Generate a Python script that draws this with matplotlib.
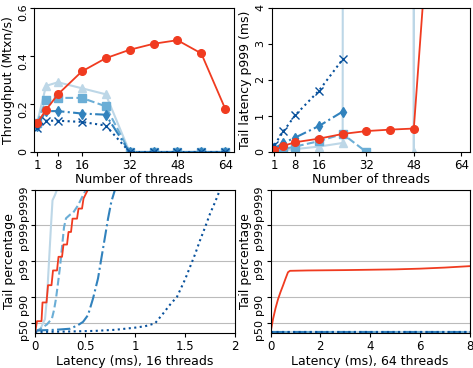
import numpy as np
import matplotlib
matplotlib.use('Agg')
import matplotlib.pyplot as plt

plt.rcParams['font.size'] = 9
plt.rcParams['xtick.labelsize'] = 8.5
plt.rcParams['ytick.labelsize'] = 8

threads = [1, 4, 8, 16, 24, 32, 40, 48, 56, 64]
nan = np.nan

# throughput (Mtxn/s)
tput_red = [0.12, 0.175, 0.24, 0.335, 0.39, 0.425, 0.45, 0.465, 0.41, 0.18]
tput_tri = [0.12, 0.275, 0.29, 0.265, 0.24, 0, 0, 0, 0, 0]
tput_sq = [0.12, 0.215, 0.225, 0.225, 0.19, 0, 0, 0, 0, 0]
tput_dia = [0.11, 0.17, 0.17, 0.16, 0.155, 0, 0, 0, 0, 0]
tput_x = [0.10, 0.13, 0.13, 0.125, 0.11, 0, 0, 0, 0, 0]

# p999 latency (ms)
lat_red = [0.05, 0.17, 0.27, 0.37, 0.5, 0.58, 0.62, 0.65, 9.7, 9.7]
lat_tri = [0.02, 0.05, 0.08, 0.15, 0.25, 1000, 1000, 0, 1000, 1000]
lat_sq = [0.03, 0.08, 0.15, 0.3, 0.5, 0, nan, nan, nan, nan]
lat_dia = [0.1, 0.25, 0.4, 0.72, 1.12, nan, nan, nan, nan, nan]
lat_x = [0.2, 0.57, 1.02, 1.7, 2.57, nan, nan, nan, nan, nan]

# tail curves, 16 threads (x = latency ms, y = -log10(1-p))
c16_red_x = [0.0, 0.02, 0.065, 0.075, 0.115, 0.13, 0.165, 0.18, 0.22, 0.235, 0.27,
             0.285, 0.32, 0.335, 0.36, 0.375, 0.42, 0.435, 0.47, 0.485, 0.53]
c16_red_y = [0.0, 0.34, 0.34, 0.86, 0.86, 1.34, 1.34, 1.75, 1.75, 2.13, 2.13,
             2.47, 2.47, 2.82, 2.82, 3.19, 3.19, 3.47, 3.47, 3.75, 4.0]
c16_tri_x = [0.0, 0.05, 0.1, 0.12, 0.14, 0.16, 0.175, 0.2, 0.22]
c16_tri_y = [0.02, 0.1, 0.4, 1.0, 2.0, 3.0, 3.7, 3.85, 4.0]
c16_sq_x = [0.0, 0.05, 0.12, 0.17, 0.19, 0.21, 0.23, 0.25, 0.27, 0.29, 0.31,
            0.35, 0.38, 0.43, 0.48, 0.51]
c16_sq_y = [0.05, 0.12, 0.25, 0.42, 0.65, 0.97, 1.4, 1.85, 2.4, 2.95, 3.2,
            3.3, 3.35, 3.56, 3.84, 4.0]
c16_dia_x = [0.0, 0.2, 0.35, 0.43, 0.48, 0.53, 0.58, 0.63, 0.663, 0.697, 0.73, 0.763, 0.8]
c16_dia_y = [0.08, 0.1, 0.13, 0.23, 0.32, 0.51, 0.97, 1.53, 2.08, 2.64, 3.19, 3.66, 4.0]
c16_x_x = [0.0, 0.3, 0.6, 0.8, 1.0, 1.1, 1.2, 1.28, 1.35, 1.42, 1.5, 1.55,
           1.6, 1.65, 1.7, 1.75, 1.8, 1.85]
c16_x_y = [0.04, 0.05, 0.07, 0.1, 0.16, 0.2, 0.28, 0.55, 0.8, 1.02, 1.5, 1.85,
           2.2, 2.59, 2.95, 3.33, 3.65, 4.0]

# tail curves, 64 threads
c64_red_x = [0, 0.02, 0.1, 0.2, 0.3, 0.4, 0.5, 0.6, 0.7, 0.78, 1.5, 3, 4, 5, 6, 7, 8]
c64_red_y = [0.05, 0.1, 0.4, 0.7, 0.95, 1.15, 1.33, 1.52, 1.7, 1.74, 1.75, 1.76,
             1.77, 1.78, 1.8, 1.83, 1.87]
c64_blue_x = [0, 8]
c64_blue_y = [0.03, 0.03]

tail_ticks = [0.301, 1, 2, 3, 4]
tail_labels = ['p50', 'p90', 'p99', 'p999', 'p9999']

red = '#f03b20'
blues = ['#bdd7e7', '#6baed6', '#3182bd', '#08519c']
styles = ['-', '--', '-.', ':']
markers = ['^', 's', 'd', 'x']

fig = plt.figure(figsize=(4.73, 3.68), dpi=100)
ax1 = fig.add_axes([0.072, 0.587, 0.423, 0.392])
ax2 = fig.add_axes([0.574, 0.587, 0.420, 0.392])
ax3 = fig.add_axes([0.074, 0.094, 0.423, 0.391])
ax4 = fig.add_axes([0.572, 0.094, 0.421, 0.391])

for ys, c, ls, m in zip([tput_tri, tput_sq, tput_dia, tput_x], blues, styles, markers):
    ax1.plot(threads, ys, color=c, ls=ls, marker=m, lw=1.5, ms=5.5)
ax1.plot(threads, tput_red, color=red, marker='o', lw=1.3, ms=5.5)
ax1.set_ylim(0, 0.6)
ax1.set_yticks([0, 0.2, 0.4, 0.6])
ax1.set_yticklabels(['0', '0.2', '0.4', '0.6'])
ax1.set_ylabel('Throughput (Mtxn/s)', labelpad=2)

for ys, c, ls, m in zip([lat_tri, lat_sq, lat_dia, lat_x], blues, styles, markers):
    ax2.plot(threads, ys, color=c, ls=ls, marker=m, lw=1.5, ms=5.5)
ax2.plot(threads, lat_red, color=red, marker='o', lw=1.3, ms=5.5)
ax2.set_ylim(0, 4)
ax2.set_yticks([0, 1, 2, 3, 4])
ax2.set_ylabel('Tail latency p999 (ms)', labelpad=2)

for ax in (ax1, ax2):
    ax.set_xlim(0, 67)
    ax.set_xticks([1, 8, 16, 32, 48, 64])
    ax.set_xlabel('Number of threads', labelpad=1)

curves16 = [(c16_tri_x, c16_tri_y), (c16_sq_x, c16_sq_y),
            (c16_dia_x, c16_dia_y), (c16_x_x, c16_x_y)]
for (xs, ys), c, ls in zip(curves16, blues, styles):
    ax3.plot(xs, ys, color=c, ls=ls, lw=1.5)
ax3.plot(c16_red_x, c16_red_y, color=red, lw=1.3)
ax3.set_xlim(0, 2)
ax3.set_xticks([0, 0.5, 1, 1.5, 2])
ax3.set_xticklabels(['0', '0.5', '1', '1.5', '2'])
ax3.set_xlabel('Latency (ms), 16 threads', labelpad=1)

for c, ls in zip(blues, styles):
    ax4.plot(c64_blue_x, c64_blue_y, color=c, ls=ls, lw=1.5)
ax4.plot(c64_red_x, c64_red_y, color=red, lw=1.3)
ax4.set_xlim(0, 8)
ax4.set_xticks([0, 2, 4, 6, 8])
ax4.set_xlabel('Latency (ms), 64 threads', labelpad=1)

for ax in (ax3, ax4):
    ax.set_ylim(0, 4)
    ax.set_yticks(tail_ticks)
    ax.set_yticklabels(tail_labels)
    ax.set_ylabel('Tail percentage', labelpad=2)
    ax.grid(axis='y', color='#bbbbbb', lw=0.8)
    ax.set_axisbelow(True)

for ax in (ax1, ax2, ax3, ax4):
    ax.tick_params(axis='y', pad=1.5, length=3, labelrotation=90)
    ax.tick_params(axis='x', pad=2, length=3)

fig.savefig('out.png', dpi=100)
